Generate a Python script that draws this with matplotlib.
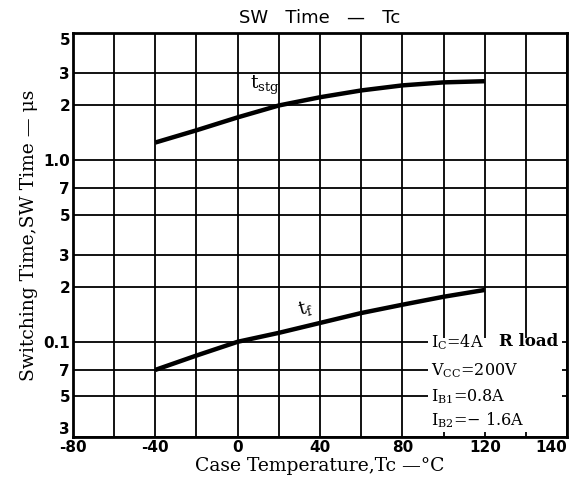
import matplotlib
matplotlib.use("Agg")
import matplotlib.pyplot as plt
from matplotlib.patches import Rectangle

# data
tc = [-40, -20, 0, 20, 40, 60, 80, 100, 120]
t_stg = [1.25, 1.46, 1.72, 2.0, 2.22, 2.42, 2.58, 2.68, 2.72]
t_f = [0.070, 0.084, 0.100, 0.112, 0.127, 0.144, 0.160, 0.177, 0.193]

x_ticks = [-80, -40, 0, 40, 80, 120, 160]
x_ticklabels = ['-80', '-40', '0', '40', '80', '120', '140']
x_grid = [-60, -20, 20, 60, 100, 140]
y_ticks = [0.03, 0.05, 0.07, 0.1, 0.2, 0.3, 0.5, 0.7, 1.0, 2, 3, 5]
y_ticklabels = ['3', '5', '7', '0.1', '2', '3', '5', '7', '1.0', '2', '3', '5']

plt.rcParams['mathtext.fontset'] = 'dejavuserif'

fig = plt.figure(figsize=(5.83, 4.88), dpi=100)
ax = fig.add_axes([0.125, 0.105, 0.848, 0.827])
ax.set_yscale('log')
ax.set_xlim(-80, 160)
ax.set_ylim(0.03, 5)

for v in x_ticks + x_grid:
    ax.axvline(v, color='black', lw=1.3, zorder=1)
for v in y_ticks:
    ax.axhline(v, color='black', lw=1.3, zorder=1)

ax.plot(tc, t_stg, color='black', lw=3.2, zorder=3, solid_capstyle='butt')
ax.plot(tc, t_f, color='black', lw=3.2, zorder=3, solid_capstyle='butt')

ax.set_xticks(x_ticks)
ax.set_xticklabels(x_ticklabels, fontsize=11, fontweight='bold')
ax.set_yticks(y_ticks)
ax.set_yticklabels(y_ticklabels, fontsize=11, fontweight='bold')
ax.yaxis.set_minor_locator(matplotlib.ticker.NullLocator())
ax.tick_params(length=0, pad=2)
ylabels = ax.get_yticklabels()
ylabels[0].set_va('bottom')
ylabels[-1].set_va('top')
xlabels = ax.get_xticklabels()
xlabels[-1].set_ha('right')
for s in ax.spines.values():
    s.set_linewidth(2)

ax.set_title('SW   Time   —   Tc', fontsize=13, family='DejaVu Sans', pad=7)
ax.set_xlabel('Case Temperature,Tc —°C', fontsize=13.5, family='DejaVu Serif', labelpad=2)
ax.set_ylabel('Switching Time,SW Time — μs', fontsize=13.5, family='DejaVu Serif', labelpad=4)

ax.text(13, 2.22, r'$\mathregular{t_{stg}}$', fontsize=13.5, family='DejaVu Serif',
        ha='center', va='bottom', zorder=4)
ax.text(33, 0.132, r'$\mathregular{t_f}$', fontsize=13, family='DejaVu Serif',
        ha='center', va='bottom', rotation=15, zorder=4)

ax.add_patch(Rectangle((0.719, 0.012), 0.271, 0.233, transform=ax.transAxes,
                       facecolor='white', edgecolor='none', zorder=2))
ax.text(0.725, 0.234, r'$\mathregular{I_C}$=4A', transform=ax.transAxes, fontsize=11.5,
        family='DejaVu Serif', ha='left', va='center', zorder=4)
ax.text(0.862, 0.237, 'R load', transform=ax.transAxes, fontsize=12, fontweight='bold',
        family='DejaVu Serif', ha='left', va='center', zorder=4)
ax.text(0.725, 0.165, r'$\mathregular{V_{CC}}$=200V', transform=ax.transAxes, fontsize=11.5,
        family='DejaVu Serif', ha='left', va='center', zorder=4)
ax.text(0.725, 0.100, r'$\mathregular{I_{B1}}$=0.8A', transform=ax.transAxes, fontsize=11.5,
        family='DejaVu Serif', ha='left', va='center', zorder=4)
ax.text(0.725, 0.040, r'$\mathregular{I_{B2}}$=− 1.6A', transform=ax.transAxes, fontsize=11.5,
        family='DejaVu Serif', ha='left', va='center', zorder=4)

fig.savefig('out.png', dpi=100)
